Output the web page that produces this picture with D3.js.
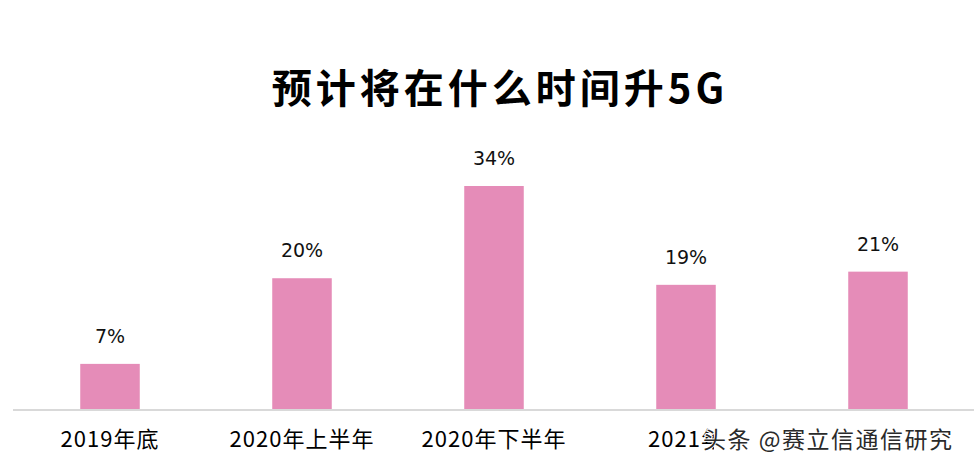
<!DOCTYPE html>
<html>
<head>
<meta charset="UTF-8" />
<title>预计将在什么时间升5G</title>
<script src="https://cdn.jsdelivr.net/npm/d3@7"></script>
<style>
body{margin:0;background:#fff;}
</style>
</head>
<body>
<div id="chart"></div>
<script type="text/javascript">
var w=974,h=466;

var categories=['2019年底','2020年上半年','2020年下半年','2021年','不确定'];
var values=[7,20,34,19,21];
var labels=['7%','20%','34%','19%','21%'];
var title='预计将在什么时间升5G';
var watermark='头条 @赛立信通信研究';

var svg=d3.select('#chart')
          .append('svg')
          .attr('width',w)
          .attr('height',h);

var x=d3.scaleBand()
        .domain(categories)
        .range([14,974])
        .paddingInner(0.69)
        .paddingOuter(0.345);

var y=d3.scaleLinear()
        .domain([0,34])
        .range([410,186]);

// title
svg.append('text')
   .attr('x',500)
   .attr('y',103)
   .attr('text-anchor','middle')
   .attr('font-family','"Noto Sans CJK SC", sans-serif')
   .attr('font-weight','bold')
   .attr('font-size',40)
   .attr('letter-spacing',4)
   .attr('fill','#000')
   .text(title);

// bars
svg.selectAll('rect.bar')
   .data(values)
   .enter()
   .append('rect')
   .attr('class','bar')
   .attr('x',function(d,i){return x(categories[i]);})
   .attr('y',function(d){return y(d);})
   .attr('width',x.bandwidth())
   .attr('height',function(d){return y(0)-y(d);})
   .attr('fill','#e58cb8');

// value labels
svg.selectAll('text.val')
   .data(values)
   .enter()
   .append('text')
   .attr('class','val')
   .attr('x',function(d,i){return x(categories[i])+x.bandwidth()/2;})
   .attr('y',function(d){return y(d)-21;})
   .attr('text-anchor','middle')
   .attr('font-family','"DejaVu Sans", sans-serif')
   .attr('font-size',19)
   .attr('fill','#111')
   .text(function(d,i){return labels[i];});

// baseline axis
var axis=d3.axisBottom(x).tickSize(0).tickPadding(17);
var g=svg.append('g')
   .attr('transform','translate(0,'+y(0)+')')
   .call(axis);
g.select('.domain')
 .attr('d','M13,0H974')
 .attr('stroke','#d9d9d9')
 .attr('stroke-width',2);
g.selectAll('.tick text')
 .attr('font-family','"Noto Sans CJK SC", sans-serif')
 .attr('font-size',22)
 .attr('letter-spacing',1)
 .attr('fill','#000')
 .attr('dy','0.9em');

// watermark on top of the last labels
svg.append('rect')
   .attr('x',714)
   .attr('y',420)
   .attr('width',250)
   .attr('height',42)
   .attr('fill','#fff');
svg.append('text')
   .attr('x',703)
   .attr('y',448)
   .attr('font-family','"Noto Sans CJK SC", sans-serif')
   .attr('font-size',23)
   .attr('letter-spacing',1.5)
   .attr('fill','#2a2a2a')
   .attr('stroke','#fff')
   .attr('stroke-width',2)
   .attr('paint-order','stroke')
   .text(watermark);
</script>
</body>
</html>
